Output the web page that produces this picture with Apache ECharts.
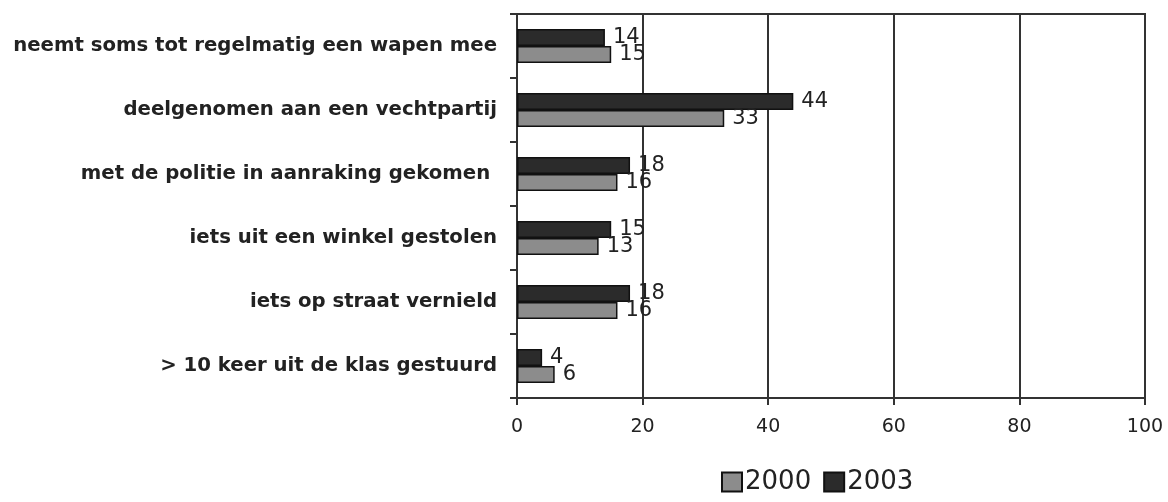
<!DOCTYPE html>
<html>
<head>
<meta charset="utf-8">
<script src="https://cdn.jsdelivr.net/npm/echarts@6/dist/echarts.min.js"></script>
<style>
  html, body { margin: 0; padding: 0; background: #fff; }
  #main { width: 1168px; height: 502px; }
</style>
</head>
<body>
<div id="main"></div>
<script>
// categories, top to bottom
const categories = [
  'neemt soms tot regelmatig een wapen mee',
  'deelgenomen aan een vechtpartij',
  'met de politie in aanraking gekomen ',
  'iets uit een winkel gestolen',
  'iets op straat vernield',
  '> 10 keer uit de klas gestuurd'
];
const values2000 = [15, 33, 16, 13, 16, 6];
const values2003 = [14, 44, 18, 15, 18, 4];
const xTicks = [0, 20, 40, 60, 80, 100];

const chart = echarts.init(document.getElementById('main'));

const labelStyle = {
  show: true,
  position: 'right',
  distance: 8,
  fontFamily: 'DejaVu Sans',
  fontSize: 21,
  color: '#222'
};

chart.setOption({
  animation: false,
  grid: {
    left: 517,
    right: 23,
    top: 14,
    bottom: 104,
    show: true,
    borderColor: '#333',
    borderWidth: 2
  },
  legend: {
    data: ['2000', '2003'],
    icon: 'rect',
    left: 716,
    bottom: 2,
    itemWidth: 20,
    itemHeight: 19,
    itemGap: 12,
    textStyle: { fontFamily: 'DejaVu Sans', fontSize: 26, color: '#222', padding: [0, 0, 0, -2] }
  },
  xAxis: {
    type: 'value',
    min: xTicks[0],
    max: xTicks[xTicks.length - 1],
    interval: 20,
    axisLine: { show: true, lineStyle: { color: '#333', width: 2 } },
    axisTick: { show: true, length: 7, lineStyle: { color: '#333', width: 2 } },
    splitLine: { show: true, lineStyle: { color: '#333', width: 2 } },
    axisLabel: { margin: 20, fontFamily: 'DejaVu Sans', fontSize: 19, color: '#222' }
  },
  yAxis: {
    type: 'category',
    data: categories,
    inverse: true,
    axisLine: { show: true, lineStyle: { color: '#333', width: 2 } },
    axisTick: { show: true, length: 7, lineStyle: { color: '#333', width: 2 } },
    axisLabel: { margin: 20, fontFamily: 'DejaVu Sans', fontWeight: 'bold', fontSize: 19.7, color: '#222' }
  },
  series: [
    {
      name: '2003',
      type: 'bar',
      data: values2003,
      barWidth: 17,
      barGap: '0%',
      itemStyle: { color: '#2b2b2b', borderColor: '#111', borderWidth: 1.5 },
      label: labelStyle
    },
    {
      name: '2000',
      type: 'bar',
      data: values2000,
      barWidth: 17,
      barGap: '0%',
      itemStyle: { color: '#8c8c8c', borderColor: '#111', borderWidth: 1.5 },
      label: labelStyle
    }
  ]
});
</script>
</body>
</html>
